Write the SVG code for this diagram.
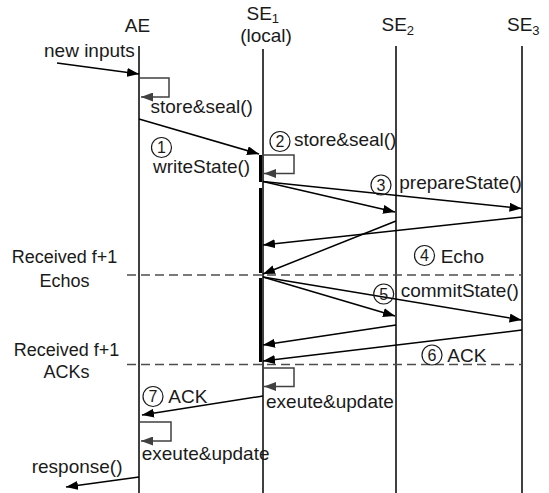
<svg xmlns="http://www.w3.org/2000/svg" width="549" height="493" viewBox="0 0 549 493">
<style>
text{font-family:"Liberation Sans",Arial,sans-serif;font-size:19px;fill:#1a1a1a}
.s{font-size:18px}
.sub{font-size:13px}
.n{font-size:16px;text-anchor:middle}
.circ{fill:none;stroke:#1a1a1a;stroke-width:1.2}
.life{stroke:#000;stroke-width:1.5;fill:none}
.msg{stroke:#000;stroke-width:1.5;fill:none;marker-end:url(#ah)}
.loop{stroke:#404040;stroke-width:1.5;fill:none;marker-end:url(#ahg)}
.dash{stroke:#4d4d4d;stroke-width:1.3;stroke-dasharray:9,5;fill:none}
.bar{fill:#000}
</style>
<defs>
<marker id="ah" markerUnits="userSpaceOnUse" markerWidth="13" markerHeight="9" refX="12" refY="4.5" orient="auto">
<path d="M0,0 L12,4.5 L0,9 z" fill="#000"/>
</marker>
<marker id="ahg" markerUnits="userSpaceOnUse" markerWidth="13" markerHeight="9" refX="12" refY="4.5" orient="auto">
<path d="M0,0 L12,4.5 L0,9 z" fill="#404040"/>
</marker>
</defs>
<g id="AE">
<text x="137.5" y="31.7" text-anchor="middle">AE</text>
<line class="life" x1="139" y1="46" x2="139" y2="493"/>
</g>
<g id="SE1">
<text x="246.5" y="20">SE<tspan class="sub" dy="3">1</tspan></text>
<text x="266" y="41.5" text-anchor="middle">(local)</text>
<line class="life" x1="263" y1="49" x2="263" y2="493"/>
<rect class="bar" x="259" y="155" width="3" height="27"/>
<rect class="bar" x="259" y="188" width="3" height="85"/>
<rect class="bar" x="259" y="278" width="3" height="84"/>
</g>
<g id="SE2">
<text x="381.5" y="31.2">SE<tspan class="sub" dy="4">2</tspan></text>
<line class="life" x1="396" y1="46" x2="396" y2="493"/>
</g>
<g id="SE3">
<text x="507" y="31.2">SE<tspan class="sub" dy="4">3</tspan></text>
<line class="life" x1="522" y1="46" x2="522" y2="493"/>
</g>
<g id="connectors">
<line class="msg" x1="57" y1="63" x2="139" y2="74"/>
<path class="loop" d="M140,78 H169 V97 H141"/>
<line class="msg" x1="139" y1="119" x2="259" y2="154"/>
<path class="loop" d="M263,155 H294 V173.5 H264"/>
<line class="msg" x1="263" y1="181.5" x2="395" y2="212"/>
<line class="msg" x1="263" y1="181.5" x2="521.5" y2="208.5"/>
<line class="msg" x1="522" y1="217" x2="263" y2="245"/>
<line class="msg" x1="396" y1="221" x2="263" y2="274"/>
<line class="dash" x1="127" y1="275" x2="522" y2="275"/>
<line class="msg" x1="263" y1="277" x2="395" y2="316"/>
<line class="msg" x1="263" y1="277" x2="521.5" y2="320"/>
<line class="msg" x1="396" y1="325" x2="263" y2="345"/>
<line class="msg" x1="522" y1="330" x2="263" y2="361"/>
<line class="dash" x1="127" y1="364.5" x2="522" y2="364.5"/>
<path class="loop" d="M263,368 H294 V386.5 H264"/>
<line class="msg" x1="263" y1="396" x2="142" y2="415"/>
<path class="loop" d="M140,422 H171 V441 H141"/>
<line class="msg" x1="139" y1="477" x2="66" y2="487"/>
</g>
<g id="labels">
<text x="44" y="57">new inputs</text>
<text x="150.5" y="112.5">store&amp;seal()</text>
<g id="step1"><circle class="circ" cx="161.5" cy="147.5" r="10"/><text class="n" x="161.5" y="153.3">1</text></g>
<text x="153" y="172.7">writeState()</text>
<g id="step2"><circle class="circ" cx="280" cy="141.5" r="10"/><text class="n" x="280" y="147.3">2</text></g>
<text x="294" y="146">store&amp;seal()</text>
<g id="step3"><circle class="circ" cx="381" cy="185" r="10"/><text class="n" x="381" y="190.8">3</text></g>
<text x="399.3" y="189.3">prepareState()</text>
<text class="s" x="64.5" y="263.3" text-anchor="middle">Received f+1</text>
<text class="s" x="64.5" y="286.7" text-anchor="middle">Echos</text>
<g id="step4"><circle class="circ" cx="424.5" cy="255.5" r="10"/><text class="n" x="424.5" y="261.3">4</text></g>
<text x="440.7" y="262.7">Echo</text>
<g id="step5"><circle class="circ" cx="383.7" cy="294" r="10"/><text class="n" x="383.7" y="299.8">5</text></g>
<text x="400.7" y="297.3">commitState()</text>
<text class="s" x="66.5" y="356" text-anchor="middle">Received f+1</text>
<text class="s" x="66.5" y="378.3" text-anchor="middle">ACKs</text>
<g id="step6"><circle class="circ" cx="432" cy="355" r="10"/><text class="n" x="432" y="360.8">6</text></g>
<text x="447.3" y="361.7">ACK</text>
<text x="266" y="407.7">exeute&amp;update</text>
<g id="step7"><circle class="circ" cx="153" cy="396.5" r="10"/><text class="n" x="153" y="402.3">7</text></g>
<text x="168.3" y="402.7">ACK</text>
<text x="141.7" y="460">exeute&amp;update</text>
<text x="31.7" y="472.7">response()</text>
</g>
</svg>
